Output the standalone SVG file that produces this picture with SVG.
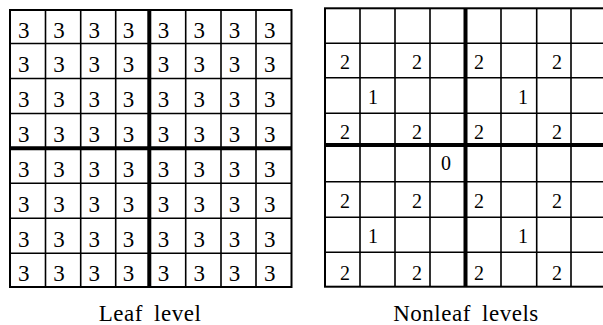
<svg xmlns="http://www.w3.org/2000/svg" width="603" height="325" viewBox="0 0 603 325">
<style>
.bg{fill:#fff}
.thin{stroke:#000;stroke-width:1.6;fill:none}
.thick{stroke:#000;stroke-width:4;fill:none}
.border{stroke:#000;stroke-width:2;fill:none}
.d3{font-family:"Liberation Serif",serif;font-size:23px;text-anchor:middle;fill:#000}
.d2{font-family:"Liberation Serif",serif;font-size:20px;text-anchor:middle;fill:#000}
.lbl{font-family:"Liberation Serif",serif;font-size:23px;text-anchor:middle;fill:#000;letter-spacing:0.5px;word-spacing:5px}
</style>
<rect class="bg" x="0" y="0" width="603" height="325"/>
<g id="leaf-grid">
<g id="leaf-lines">
<path class="thin" d="M45.5 10V287M80.7 10V287M115.7 10V287M185.7 10V287M221 10V287M256 10V287M10 43.5H291.5M10 78.5H291.5M10 113.5H291.5M10 183.3H291.5M10 218.3H291.5M10 253.3H291.5"/>
<path class="thick" d="M149.3 10V287M10 148.3H291.5"/>
<rect class="border" x="10" y="10" width="281.5" height="277"/>
</g>
<g id="leaf-values">
<text class="d3" y="37.5"><tspan x="23.7">3</tspan><tspan x="59.1">3</tspan><tspan x="94.2">3</tspan><tspan x="128.5">3</tspan><tspan x="163.5">3</tspan><tspan x="199.3">3</tspan><tspan x="234.5">3</tspan><tspan x="269.7">3</tspan></text>
<text class="d3" y="71.5"><tspan x="23.7">3</tspan><tspan x="59.1">3</tspan><tspan x="94.2">3</tspan><tspan x="128.5">3</tspan><tspan x="163.5">3</tspan><tspan x="199.3">3</tspan><tspan x="234.5">3</tspan><tspan x="269.7">3</tspan></text>
<text class="d3" y="106.5"><tspan x="23.7">3</tspan><tspan x="59.1">3</tspan><tspan x="94.2">3</tspan><tspan x="128.5">3</tspan><tspan x="163.5">3</tspan><tspan x="199.3">3</tspan><tspan x="234.5">3</tspan><tspan x="269.7">3</tspan></text>
<text class="d3" y="141.5"><tspan x="23.7">3</tspan><tspan x="59.1">3</tspan><tspan x="94.2">3</tspan><tspan x="128.5">3</tspan><tspan x="163.5">3</tspan><tspan x="199.3">3</tspan><tspan x="234.5">3</tspan><tspan x="269.7">3</tspan></text>
<text class="d3" y="176.5"><tspan x="23.7">3</tspan><tspan x="59.1">3</tspan><tspan x="94.2">3</tspan><tspan x="128.5">3</tspan><tspan x="163.5">3</tspan><tspan x="199.3">3</tspan><tspan x="234.5">3</tspan><tspan x="269.7">3</tspan></text>
<text class="d3" y="211.5"><tspan x="23.7">3</tspan><tspan x="59.1">3</tspan><tspan x="94.2">3</tspan><tspan x="128.5">3</tspan><tspan x="163.5">3</tspan><tspan x="199.3">3</tspan><tspan x="234.5">3</tspan><tspan x="269.7">3</tspan></text>
<text class="d3" y="246.5"><tspan x="23.7">3</tspan><tspan x="59.1">3</tspan><tspan x="94.2">3</tspan><tspan x="128.5">3</tspan><tspan x="163.5">3</tspan><tspan x="199.3">3</tspan><tspan x="234.5">3</tspan><tspan x="269.7">3</tspan></text>
<text class="d3" y="281"><tspan x="23.7">3</tspan><tspan x="59.1">3</tspan><tspan x="94.2">3</tspan><tspan x="128.5">3</tspan><tspan x="163.5">3</tspan><tspan x="199.3">3</tspan><tspan x="234.5">3</tspan><tspan x="269.7">3</tspan></text>
</g>
<text id="leaf-label" class="lbl" x="150" y="321">Leaf level</text>
</g>
<g id="nonleaf-grid">
<g id="nonleaf-lines">
<path class="thin" d="M360 8.3V286.7M395 8.3V286.7M430 8.3V286.7M501 8.3V286.7M536.7 8.3V286.7M571 8.3V286.7M325 43.3H606M325 77.7H606M325 113.3H606M325 181.7H606M325 217.3H606M325 252.3H606"/>
<path class="thick" d="M465.5 8.3V286.7M325 145H606"/>
<rect class="border" x="325" y="8.3" width="281" height="278.4"/>
</g>
<g id="nonleaf-values">
<text class="d2" y="69"><tspan x="345">2</tspan><tspan x="417">2</tspan><tspan x="479">2</tspan><tspan x="557">2</tspan></text>
<text class="d2" y="104"><tspan x="373">1</tspan><tspan x="523">1</tspan></text>
<text class="d2" y="139"><tspan x="345">2</tspan><tspan x="417">2</tspan><tspan x="479">2</tspan><tspan x="557">2</tspan></text>
<text class="d2" y="170"><tspan x="446">0</tspan></text>
<text class="d2" y="208"><tspan x="345">2</tspan><tspan x="417">2</tspan><tspan x="479">2</tspan><tspan x="557">2</tspan></text>
<text class="d2" y="243"><tspan x="373">1</tspan><tspan x="523">1</tspan></text>
<text class="d2" y="280"><tspan x="345">2</tspan><tspan x="417">2</tspan><tspan x="479">2</tspan><tspan x="557">2</tspan></text>
</g>
<text id="nonleaf-label" class="lbl" x="466" y="321">Nonleaf levels</text>
</g>
</svg>
